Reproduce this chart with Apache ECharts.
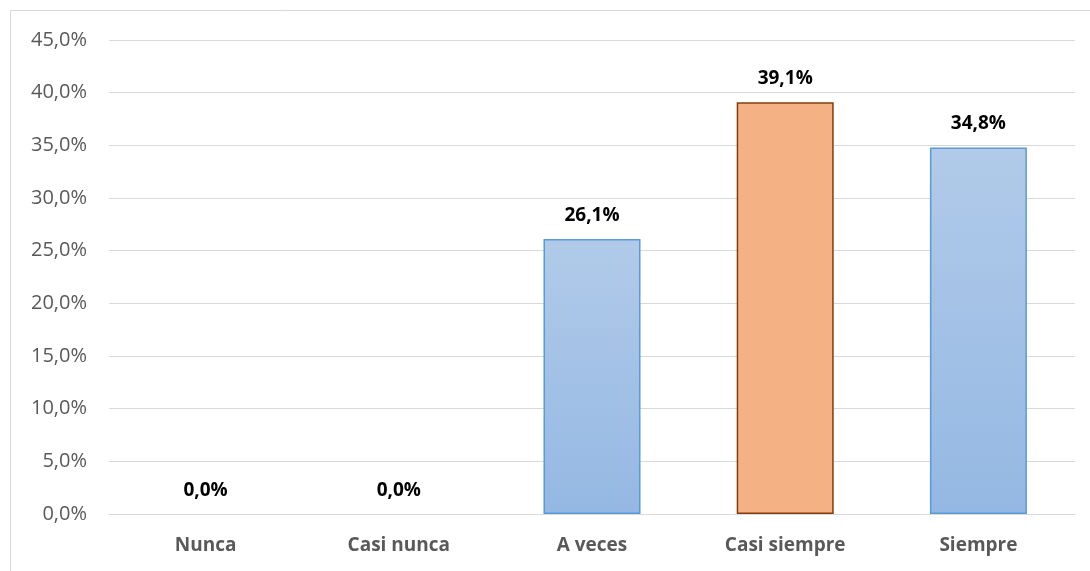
<!DOCTYPE html>
<html>
<head>
<meta charset="utf-8">
<script src="https://cdn.jsdelivr.net/npm/echarts@6/dist/echarts.min.js"></script>
<style>
html,body{margin:0;padding:0;background:#fff;}
#c{width:1090px;height:571px;}
</style>
</head>
<body>
<div id="c"></div>
<script>
const categories = ['Nunca', 'Casi nunca', 'A veces', 'Casi siempre', 'Siempre'];
const values = [0.0, 0.0, 26.1, 39.1, 34.8];
const highlightIndex = 3;
const yTicks = { min: 0, max: 45, interval: 5 };

const fmt = v => v.toFixed(1).replace('.', ',') + '%';
const FONT = 'Open Sans';

const blueFill = new echarts.graphic.LinearGradient(0, 0, 0, 1, [
  { offset: 0, color: '#b1cae9' },
  { offset: 1, color: '#94b8e3' }
]);

const chart = echarts.init(document.getElementById('c'), null, { renderer: 'canvas' });
chart.setOption({
  animation: false,
  backgroundColor: '#ffffff',
  graphic: [{
    type: 'rect',
    shape: { x: 10.5, y: 10.5, width: 1200, height: 700 },
    style: { fill: 'none', stroke: '#d9d9d9', lineWidth: 1 },
    silent: true
  }],
  grid: { left: 109, right: 15, top: 40, bottom: 57 },
  xAxis: {
    type: 'category',
    data: categories,
    axisLine: { show: true, lineStyle: { color: '#d9d9d9', width: 1 } },
    axisTick: { show: false },
    axisLabel: { color: '#595959', fontFamily: FONT, fontSize: 19, fontWeight: 'bold', margin: 22 }
  },
  yAxis: {
    type: 'value',
    min: yTicks.min, max: yTicks.max, interval: yTicks.interval,
    axisLine: { show: false },
    axisTick: { show: false },
    splitLine: { lineStyle: { color: '#d9d9d9', width: 1 } },
    axisLabel: { color: '#595959', fontFamily: FONT, fontSize: 20, margin: 22, formatter: v => fmt(v) }
  },
  series: [{
    type: 'bar',
    barWidth: 97,
    data: values.map((v, i) => ({
      value: v,
      itemStyle: v === 0
        ? { color: 'rgba(0,0,0,0)', borderWidth: 0 }
        : i === highlightIndex
          ? { color: '#f4b183', borderColor: '#843c0c', borderWidth: 1.5 }
          : { color: blueFill, borderColor: '#5b9bd5', borderWidth: 1.5 }
    })),
    label: {
      show: true,
      position: 'top',
      distance: 14,
      color: '#000000',
      fontFamily: FONT,
      fontSize: 19,
      fontWeight: 'bold',
      formatter: p => fmt(p.value)
    }
  }]
});
</script>
</body>
</html>
